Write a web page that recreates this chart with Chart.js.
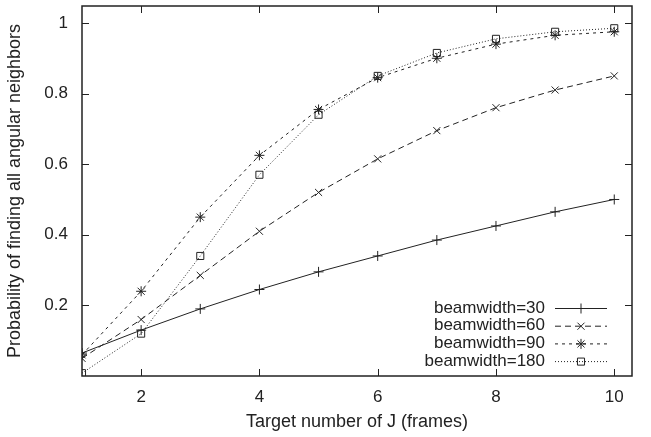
<!DOCTYPE html>
<html>
<head>
<meta charset="utf-8">
<script src="https://cdn.jsdelivr.net/npm/chart.js@4/dist/chart.umd.min.js"></script>
<style>
  html, body { margin: 0; padding: 0; background: #fff; }
  #wrap { width: 651px; height: 437px; }
</style>
</head>
<body>
<div id="wrap"><canvas id="chart"></canvas></div>
<script>
// x values (target number of J frames)
const frames = [1, 2, 3, 4, 5, 6, 7, 8, 9, 10];
const seriesLabels = ["beamwidth=30", "beamwidth=60", "beamwidth=90", "beamwidth=180"];
const bw30 = [0.065, 0.13, 0.19, 0.245, 0.295, 0.34, 0.385, 0.425, 0.465, 0.50];
const bw60 = [0.05, 0.16, 0.285, 0.41, 0.52, 0.615, 0.695, 0.76, 0.81, 0.85];
const bw90 = [0.06, 0.24, 0.45, 0.625, 0.755, 0.845, 0.90, 0.94, 0.965, 0.975];
const bw180 = [0.008, 0.12, 0.34, 0.57, 0.74, 0.85, 0.915, 0.955, 0.975, 0.985];
const xTicks = [2, 4, 6, 8, 10];
const yTicks = [0.2, 0.4, 0.6, 0.8, 1];

const INK = "#222";
const FONT = "'Liberation Sans', Arial, sans-serif";

const styles = [
  { dash: [], point: "cross", r: 5 },
  { dash: [6, 4], point: "crossRot", r: 5 },
  { dash: [3, 4], point: "star", r: 5 },
  { dash: [1, 2], point: "rect", r: 5 },
];

const values = [bw30, bw60, bw90, bw180];
const datasets = values.map((vals, i) => ({
  label: seriesLabels[i],
  data: frames.map((f, k) => ({ x: f, y: vals[k] })),
  borderColor: INK,
  borderWidth: 1,
  borderDash: styles[i].dash,
  pointStyle: styles[i].point,
  pointRadius: styles[i].r,
  pointBorderColor: INK,
  pointBackgroundColor: "rgba(0,0,0,0)",
  pointBorderWidth: 1,
  tension: 0,
}));

// frame box, inward ticks on all four sides, and the gnuplot style legend
const framePlugin = {
  id: "frame",
  afterDatasetsDraw(chart) {
    const { ctx, chartArea: a, scales } = chart;
    ctx.save();
    ctx.strokeStyle = INK;
    ctx.lineWidth = 1.5;
    ctx.setLineDash([]);
    ctx.strokeRect(a.left, a.top, a.right - a.left, a.bottom - a.top);
    ctx.lineWidth = 1;
    const len = 7;
    ctx.beginPath();
    xTicks.forEach((v) => {
      const px = Math.round(scales.x.getPixelForValue(v)) + 0.5;
      ctx.moveTo(px, a.bottom); ctx.lineTo(px, a.bottom - len);
      ctx.moveTo(px, a.top); ctx.lineTo(px, a.top + len);
    });
    yTicks.forEach((v) => {
      const py = Math.round(scales.y.getPixelForValue(v)) + 0.5;
      ctx.moveTo(a.left, py); ctx.lineTo(a.left + len, py);
      ctx.moveTo(a.right, py); ctx.lineTo(a.right - len, py);
    });
    ctx.stroke();

    // legend
    ctx.font = "17px " + FONT;
    ctx.textAlign = "right";
    ctx.textBaseline = "middle";
    const textRight = a.right - 87;
    const lineL = a.right - 77, lineR = a.right - 25;
    const rowH = 17.7;
    const top = a.bottom - 68;
    chart.data.datasets.forEach((ds, i) => {
      const y = top + i * rowH;
      ctx.fillStyle = INK;
      ctx.fillText(ds.label, textRight, y);
      ctx.setLineDash(ds.borderDash);
      ctx.beginPath();
      ctx.moveTo(lineL, y + 0.5);
      ctx.lineTo(lineR, y + 0.5);
      ctx.stroke();
      ctx.setLineDash([]);
      ctx.fillStyle = "rgba(0,0,0,0)";
      Chart.helpers.drawPoint(ctx, {
        pointStyle: ds.pointStyle, radius: ds.pointRadius, borderWidth: 1, rotation: 0,
      }, (lineL + lineR) / 2, y + 0.5);
    });
    ctx.restore();
  },
};

new Chart(document.getElementById("chart"), {
  type: "line",
  data: { datasets },
  plugins: [framePlugin],
  options: {
    responsive: true,
    maintainAspectRatio: false,
    animation: false,
    layout: { padding: { top: 4, right: 19, left: 0, bottom: 0 } },
    plugins: { legend: { display: false }, tooltip: { enabled: false } },
    scales: {
      x: {
        type: "linear",
        min: 1,
        max: 10.3,
        afterBuildTicks: (s) => { s.ticks = xTicks.map((v) => ({ value: v })); },
        afterFit: (s) => { s.height = 61; s.paddingLeft = 0; s.paddingRight = 0; },
        grid: { display: false, drawTicks: false },
        border: { display: false },
        ticks: { color: INK, font: { family: FONT, size: 17 }, padding: 11, maxRotation: 0 },
        title: { display: true, text: "Target number of J (frames)", color: INK, font: { family: FONT, size: 18 }, padding: { top: 4 } },
      },
      y: {
        min: 0,
        max: 1.048,
        afterBuildTicks: (s) => { s.ticks = yTicks.map((v) => ({ value: v })); },
        afterFit: (s) => { s.width = 82; s.paddingTop = 0; s.paddingBottom = 0; },
        grid: { display: false, drawTicks: false },
        border: { display: false },
        ticks: {
          color: INK, font: { family: FONT, size: 17 }, padding: 14,
          callback: (v) => String(v),
        },
        title: { display: true, text: "Probability of finding all angular neighbors", color: INK, font: { family: FONT, size: 18 }, padding: { bottom: 2 } },
      },
    },
  },
});
</script>
</body>
</html>
